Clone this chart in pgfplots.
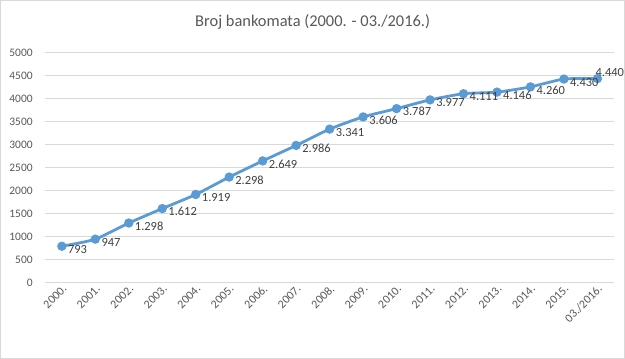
\documentclass[border=0pt]{standalone}
\usepackage{pgfplots}
\pgfplotsset{compat=1.18}
\usepackage{fontspec}
\setmainfont{Carlito}
\definecolor{xlblue}{HTML}{5B9BD5}
\definecolor{gridc}{HTML}{D9D9D9}
\definecolor{tickc}{HTML}{595959}
\definecolor{labc}{HTML}{404040}
\begin{document}
\begin{tikzpicture}[x=1bp,y=1bp]
\draw[gridc, line width=0.8bp, fill=white] (0.5,0.5) rectangle (624.5,358.5);
\node[text=tickc, font=\fontsize{16.5}{20}\selectfont] at (313,337) {Broj bankomata (2000. - 03./2016.)};
\begin{axis}[
  at={(45.25bp,76bp)}, anchor=south west,
  scale only axis, width=569.5bp, height=230bp,
  xmin=-0.5, xmax=16.5, ymin=0, ymax=5000,
  ytick={0,500,...,5000},
  xtick={0,...,16},
  xticklabels={2000.,2001.,2002.,2003.,2004.,2005.,2006.,2007.,2008.,2009.,2010.,2011.,2012.,2013.,2014.,2015.,03./2016.},
  ymajorgrids, grid style={gridc, line width=0.8bp},
  axis line style={draw=none},
  major tick length=0pt,
  /pgf/number format/assume math mode=true,
  scaled y ticks=false,
  yticklabel style={font=\fontsize{11.5}{13}\selectfont, text=tickc, xshift=-9bp},
  xticklabel style={font=\fontsize{12}{14}\selectfont, text=tickc, rotate=45, anchor=east, xshift=0bp, yshift=-5bp, inner sep=1bp},
  y tick label style={/pgf/number format/.cd, 1000 sep={}},
  clip=false,
]
\addplot[color=xlblue, line width=2.8bp, smooth, tension=0.4, mark=*, mark size=3.2bp, mark options={fill=xlblue, draw=xlblue}] coordinates {
(0,793) (1,947) (2,1298) (3,1612) (4,1919) (5,2298) (6,2649) (7,2986) (8,3341) (9,3606) (10,3787) (11,3977) (12,4111) (13,4146) (14,4260) (15,4430) (16,4440)
};
\addplot[draw=none, point meta=explicit symbolic, nodes near coords,
  every node near coord/.append style={font=\fontsize{12.5}{14}\selectfont, text=labc, anchor=west, xshift=5bp, yshift=-3bp, inner sep=1bp}]
coordinates {
(0,793) [793] (1,947) [947] (2,1298) [1.298] (3,1612) [1.612] (4,1919) [1.919] (5,2298) [2.298] (6,2649) [2.649] (7,2986) [2.986] (8,3341) [3.341] (9,3606) [3.606] (10,3787) [3.787] (11,3977) [3.977] (12,4111) [4.111] (13,4146) [4.146] (14,4260) [4.260] (15,4430) [4.430]
};
\addplot[draw=none, point meta=explicit symbolic, nodes near coords,
  every node near coord/.append style={font=\fontsize{12.5}{14}\selectfont, text=labc, anchor=south west, xshift=-3bp, yshift=1bp, inner sep=1bp}]
coordinates {(16,4440) [4.440]};
\end{axis}
\end{tikzpicture}
\end{document}
